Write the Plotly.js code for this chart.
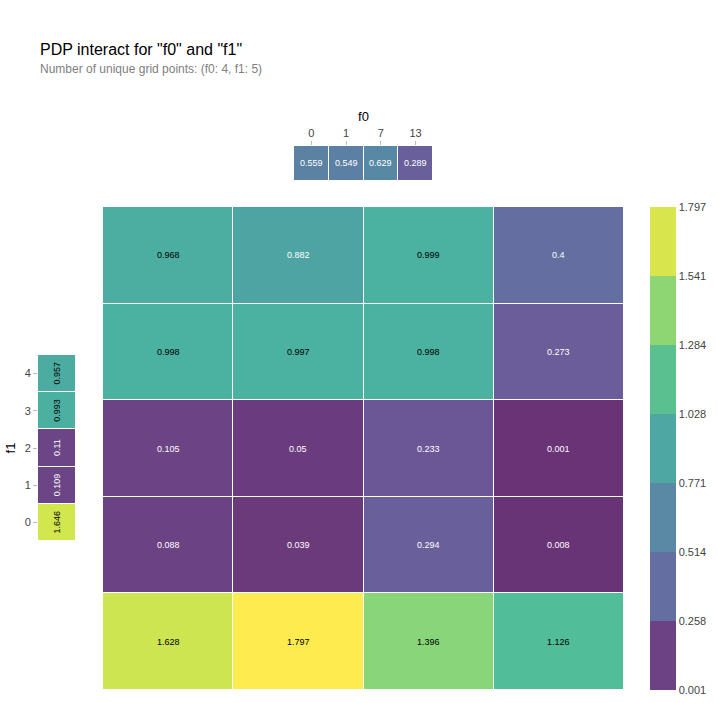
<!DOCTYPE html><html><head><script src="https://cdn.plot.ly/plotly-3.0.1.min.js"></script></head><body style="margin:0">
<div id="g" style="width:718px;height:703px"></div>
<script>
const f0Labels=['0','1','7','13'];
const f1Labels=['0','1','2','3','4'];
// rows = f1 (0..4), cols = f0
const gridValues=[
 [1.628,1.797,1.396,1.126],
 [0.088,0.039,0.294,0.008],
 [0.105,0.05,0.233,0.001],
 [0.998,0.997,0.998,0.273],
 [0.968,0.882,0.999,0.4]
];
const f0Values=[0.559,0.549,0.629,0.289];
const f1Values=[1.646,0.109,0.11,0.993,0.957];
const cbTicks=[0.001,0.258,0.514,0.771,1.028,1.284,1.541,1.797];
const vmin=0.001,vmax=1.797;
const binColors=['#6c4284','#656ea1','#5989a5','#4ea7a3','#5bc08f','#8ed674','#d8e54d'];
const disc=[];binColors.forEach((c,i)=>{disc.push([i/7,c]);disc.push([(i+1)/7,c]);});
const font='Liberation Sans, Arial, sans-serif';
const ann=[];
gridValues.forEach((row,i)=>row.forEach((v,j)=>ann.push({xref:'x',yref:'y',x:j,y:i,text:String(v),showarrow:false,font:{size:9,color:v>0.9?'black':'white'}})));
f0Values.forEach((v,j)=>ann.push({xref:'x2',yref:'y2',x:j,y:0,text:String(v),showarrow:false,font:{size:9,color:'white'}}));
f1Values.forEach((v,i)=>ann.push({xref:'x3',yref:'y3',x:0,y:i,text:String(v),showarrow:false,textangle:-90,font:{size:9,color:v>0.9?'black':'white'}}));
ann.push({xref:'paper',yref:'paper',x:38/718,y:1-49/703,xanchor:'left',yanchor:'middle',text:'PDP interact for "f0" and "f1"',showarrow:false,font:{size:16,color:'black'}});
ann.push({xref:'paper',yref:'paper',x:38/718,y:1-69/703,xanchor:'left',yanchor:'middle',text:'Number of unique grid points: (f0: 4, f1: 5)',showarrow:false,font:{size:12,color:'grey'}});
const hm={type:'heatmap',colorscale:'Viridis',zmin:vmin,zmax:vmax,opacity:0.8,showscale:false,xgap:1,ygap:1,hoverinfo:'none'};
const traces=[
 Object.assign({},hm,{x:f0Labels,y:f1Labels,z:gridValues,xaxis:'x',yaxis:'y'}),
 Object.assign({},hm,{x:f0Labels,y:['0'],z:[f0Values],xaxis:'x2',yaxis:'y2'}),
 Object.assign({},hm,{x:['0'],y:f1Labels,z:f1Values.map(v=>[v]),xaxis:'x3',yaxis:'y3'}),
 {type:'scatter',x:[null],y:[null],mode:'markers',xaxis:'x4',yaxis:'y4',showlegend:false,hoverinfo:'none',
  marker:{color:[vmin],cmin:vmin,cmax:vmax,colorscale:disc,showscale:true,
   colorbar:{x:650/718,xanchor:'left',y:1-690/703,yanchor:'bottom',len:(690-207)/703,lenmode:'fraction',thickness:26,outlinewidth:0,
    tickvals:cbTicks,ticktext:cbTicks.map(String),ticks:'',tickfont:{size:11,color:'#444'},xpad:0,ypad:0}}}
];
const hid={showgrid:false,zeroline:false,showticklabels:false,ticks:'',type:'category',fixedrange:true};
const layout={width:718,height:703,margin:{l:0,r:0,t:0,b:0},paper_bgcolor:'white',plot_bgcolor:'white',showlegend:false,
 font:{family:font,color:'#444'},annotations:ann,
 xaxis:Object.assign({},hid,{domain:[103/718,624/718],anchor:'y',range:[-0.5,3.5]}),
 yaxis:Object.assign({},hid,{domain:[1-690/703,1-207/703],anchor:'x',range:[-0.5,4.5]}),
 xaxis2:Object.assign({},hid,{domain:[294/718,433/718],anchor:'y2',range:[-0.5,3.5],side:'top',showticklabels:true,ticks:'outside',ticklen:4,tickcolor:'#bbb',tickfont:{size:11,color:'#444'},title:{text:'f0',font:{size:13,color:'black'},standoff:2}}),
 yaxis2:Object.assign({},hid,{domain:[1-181/703,1-146/703],anchor:'x2',range:[-0.5,0.5]}),
 xaxis3:Object.assign({},hid,{domain:[38/718,76/718],anchor:'y3',range:[-0.5,0.5]}),
 yaxis3:Object.assign({},hid,{domain:[1-541/703,1-355/703],anchor:'x3',range:[-0.5,4.5],showticklabels:true,ticks:'outside',ticklen:4,tickcolor:'#bbb',tickfont:{size:11,color:'#444'},title:{text:'f1',font:{size:13,color:'black'},standoff:6}}),
 xaxis4:{domain:[0,0.01],visible:false,anchor:'y4'},
 yaxis4:{domain:[0,0.01],visible:false,anchor:'x4'}
};
Plotly.newPlot('g',traces,layout,{displayModeBar:false,staticPlot:true});
</script></body></html>
